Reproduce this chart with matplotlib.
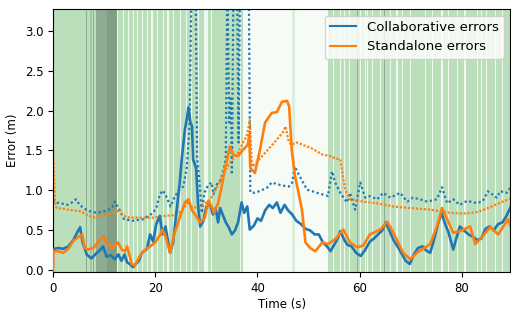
import matplotlib
matplotlib.use('Agg')
import matplotlib.pyplot as plt

# --- data (time in s, error in m) ---
collab_t = [0, 0.2, 1, 2, 3, 4, 4.7, 5.3, 5.8, 6.6, 7.5, 8.6, 9.3, 9.8, 10.5, 11.3, 12.1, 12.8,
            13.4, 14.0, 14.5, 15.0, 15.7, 16.2, 16.8, 17.4, 18.4, 19.0, 19.6, 20.2, 20.9, 21.4,
            22.0, 22.9, 23.5, 24.2, 24.8, 25.2, 25.8, 26.2, 26.5, 26.9, 27.2, 27.4, 28.0, 28.4,
            28.8, 29.4, 30.0, 30.7, 31.3, 31.8, 32.3, 32.7, 33.3, 33.8, 34.3, 35.0, 35.6, 36.2,
            36.9, 37.4, 38.0, 38.5, 39.3, 40.0, 40.7, 41.5, 42.3, 43.0, 43.8, 44.5, 45.3, 46.0,
            46.8, 47.6, 48.5, 49.4, 50.3, 51.2, 52.0, 52.8, 53.6, 54.3, 55.0, 55.7, 56.2, 57.0,
            57.6, 58.4, 59.3, 60.2, 61.0, 62.0, 62.8, 63.6, 64.4, 65.1, 65.8, 66.6, 67.4, 68.3,
            69.0, 69.8, 70.6, 71.4, 72.3, 73.0, 73.8, 74.6, 75.4, 76.0, 76.6, 77.4, 78.3, 78.9,
            79.6, 80.4, 81.3, 82.1, 83.0, 83.8, 84.6, 85.4, 86.2, 87.1, 87.9, 88.7, 89.5]
collab_err = [0.26, 0.27, 0.28, 0.27, 0.3, 0.38, 0.47, 0.54, 0.35, 0.2, 0.15, 0.22, 0.26, 0.3,
              0.17, 0.19, 0.14, 0.2, 0.12, 0.2, 0.1, 0.08, 0.04, 0.08, 0.12, 0.22, 0.27, 0.45,
              0.36, 0.58, 0.68, 0.45, 0.55, 0.22, 0.35, 0.76, 1.1, 1.4, 1.76, 1.9, 2.04, 1.85,
              1.8, 1.39, 1.28, 0.8, 0.55, 0.62, 0.8, 0.83, 0.7, 0.78, 0.6, 0.78, 0.68, 0.6, 0.55,
              0.45, 0.5, 0.6, 0.85, 0.72, 0.8, 0.51, 0.56, 0.65, 0.62, 0.75, 0.82, 0.78, 0.85,
              0.72, 0.82, 0.75, 0.7, 0.62, 0.58, 0.52, 0.5, 0.45, 0.45, 0.35, 0.3, 0.24, 0.32,
              0.4, 0.49, 0.38, 0.32, 0.3, 0.22, 0.18, 0.25, 0.36, 0.4, 0.45, 0.5, 0.6, 0.5, 0.38,
              0.3, 0.2, 0.12, 0.08, 0.2, 0.28, 0.3, 0.25, 0.22, 0.4, 0.6, 0.72, 0.6, 0.47, 0.26,
              0.4, 0.55, 0.5, 0.45, 0.42, 0.38, 0.4, 0.52, 0.55, 0.5, 0.58, 0.6, 0.68, 0.79]

collab_dot_t = [0, 0.4, 1.5, 2.8, 3.7, 4.5, 5.2, 6.2, 7.2, 8.5, 9.6, 10.9, 11.7, 12.1, 12.6, 13.3,
                13.9, 15.6, 17.6, 19.6, 20.3, 20.9, 21.5, 22.2, 23.0, 23.8, 24.6, 25.5, 26.2,
                26.7, 27.1, 27.9, 28.2, 28.6, 29.1, 29.6, 30.3, 31.0, 31.4, 32.1, 32.7, 33.4,
                33.8, 34.1, 34.5, 34.8, 35.0, 35.3, 36.0, 36.3, 36.6, 38.3, 38.6, 39.5, 40.7,
                41.8, 42.8, 43.8, 45.0, 46.2, 46.8, 47.3, 47.9, 49.7, 51.7, 53.8, 54.2, 54.6,
                55.2, 56.2, 57.5, 58.1, 59.1, 60.1, 61.1, 62.0, 63.4, 64.6, 66.0, 67.9, 69.3,
                70.4, 71.8, 73.2, 75.1, 76.1, 77.1, 78.3, 79.6, 81.0, 83.0, 84.1, 85.1, 86.8,
                87.5, 88.8, 89.5]
collab_dot_err = [0.88, 0.85, 0.84, 0.82, 0.85, 0.89, 0.82, 0.77, 0.74, 0.72, 0.73, 0.76, 0.8,
                  0.86, 0.8, 0.72, 0.64, 0.62, 0.64, 0.72, 0.8, 0.95, 1.0, 0.92, 0.8, 0.92, 1.0,
                  1.05, 1.3, 1.8, 3.6, 3.6, 1.4, 1.14, 0.72, 0.97, 1.06, 1.1, 0.95, 1.08, 1.12,
                  1.26, 1.4, 3.6, 1.85, 2.15, 1.2, 3.6, 3.6, 1.6, 3.6, 3.6, 0.98, 0.97, 1.0, 1.03,
                  1.1, 1.08, 1.06, 1.05, 1.1, 1.3, 1.22, 1.01, 0.97, 0.93, 1.1, 1.24, 1.1, 0.97,
                  0.85, 0.97, 0.76, 1.1, 0.91, 0.93, 0.89, 0.97, 0.91, 0.97, 0.86, 0.91, 0.89,
                  0.86, 0.89, 1.04, 0.84, 0.89, 0.82, 0.87, 0.84, 0.87, 0.99, 0.91, 0.99, 0.97,
                  1.04]

stand_t = [0, 0.1, 1, 2, 3, 4, 5.0, 5.7, 6.2, 6.8, 7.9, 8.8, 9.8, 10.7, 11.6, 12.7, 13.5, 14.1,
           14.5, 15.0, 15.4, 16.0, 17.0, 18.0, 19.0, 20.0, 21.0, 21.4, 22.0, 22.9, 23.7, 24.9,
           25.8, 26.5, 27.2, 28.0, 28.8, 29.7, 30.4, 31.0, 31.5, 32.3, 33.0, 33.6, 34.2, 34.6,
           35.2, 36.2, 37.2, 38.1, 38.4, 38.6, 39.5, 40.5, 41.5, 42.8, 43.8, 44.8, 45.8, 46.2,
           46.7, 47.3, 48.7, 49.4, 50.3, 51.3, 52.7, 53.8, 55.2, 56.8, 58.1, 59.5, 60.7, 62.0,
           64.0, 65.4, 66.6, 68.5, 69.9, 71.2, 73.8, 75.1, 76.1, 77.1, 78.3, 79.6, 81.6, 82.6,
           84.1, 85.5, 87.1, 89.0, 89.5]
stand_err = [0.0, 0.24, 0.24, 0.22, 0.27, 0.37, 0.42, 0.45, 0.28, 0.26, 0.28, 0.35, 0.43, 0.33,
             0.28, 0.35, 0.26, 0.24, 0.3, 0.18, 0.08, 0.06, 0.18, 0.26, 0.3, 0.35, 0.45, 0.51,
             0.43, 0.22, 0.45, 0.68, 0.85, 0.89, 0.75, 0.68, 0.6, 0.66, 0.87, 0.8, 0.72, 0.84,
             1.05, 1.26, 1.43, 1.55, 1.45, 1.43, 1.51, 1.57, 1.7, 1.28, 1.22, 1.51, 1.85, 1.97,
             1.98, 2.11, 2.12, 2.05, 1.51, 1.2, 0.76, 0.35, 0.28, 0.24, 0.35, 0.33, 0.39, 0.51,
             0.35, 0.29, 0.31, 0.45, 0.51, 0.61, 0.47, 0.22, 0.14, 0.22, 0.33, 0.55, 0.78, 0.64,
             0.47, 0.49, 0.55, 0.33, 0.43, 0.54, 0.45, 0.64, 0.55]

stand_dot_t = [0, 0.2, 0.4, 0.7, 2, 4, 5.5, 6.5, 7.9, 9, 10.5, 12, 13.1, 13.8, 15, 17, 19.6,
               21.5, 23.5, 25.2, 26.5, 27.3, 28.8, 30.7, 31.8, 33.0, 34.1, 35.1, 36.2, 37.2,
               38.0, 38.5, 38.9, 39.5, 40.5, 41.5, 43.3, 44.9, 45.5, 46.0, 46.6, 47.6, 48.5,
               50.5, 52.7, 54.2, 55.2, 56.2, 56.8, 57.2, 58.1, 60.7, 63.4, 66.5, 69.9, 73.8,
               77.7, 80.2, 83.0, 85.5, 88.0, 89.5]
stand_dot_err = [1.55, 1.2, 0.85, 0.78, 0.77, 0.75, 0.74, 0.7, 0.66, 0.68, 0.7, 0.72, 0.76,
                 0.68, 0.66, 0.66, 0.66, 0.68, 0.69, 0.74, 0.86, 0.78, 0.8, 0.88, 1.01, 1.16,
                 1.3, 1.39, 1.47, 1.6, 1.7, 1.88, 1.3, 1.33, 1.4, 1.47, 1.6, 1.72, 1.8, 1.64,
                 1.57, 1.6, 1.58, 1.53, 1.45, 1.43, 1.4, 1.39, 1.14, 1.0, 0.89, 0.86, 0.84, 0.8,
                 0.78, 0.76, 0.72, 0.71, 0.73, 0.79, 0.86, 0.9]

# background periods (s)
green_periods = [(0, 37.1), (53.8, 89.5)]
faint_periods = [(46.8, 47.4)]
dark_periods = [(6.46, 6.69), (7.83, 8.12), (8.51, 12.43)]
mid_periods = [(7.24, 7.63)]
darker_periods = [(10.6, 12.43)]
gap_times = [12.52, 13.70, 14.68, 15.66, 16.44, 17.42, 18.40, 19.37, 20.35, 21.53, 22.50,
             23.48, 24.85, 26.03, 27.01, 28.38, 30.92, 36.6,
             54.8, 56.2, 57.1, 58.1, 60.1, 61.1, 61.6, 62.6, 64.0, 66.0, 67.3, 68.3, 69.9,
             72.8, 74.2, 76.1, 77.3, 79.1, 80.6, 83.0, 83.9, 84.9, 86.5, 87.9]
wide_gaps = [(29.55, 30.33)]
dark_lines = [59.5, 64.8]

BG = '#f6fbf6'
GREEN = '#bbdfbb'


def main() -> None:
    fig = plt.figure(figsize=(5.11, 3.11), dpi=100)
    ax = fig.add_axes([0.1037, 0.1254, 0.8953, 0.8457])
    ax.set_facecolor(BG)

    for a, b in green_periods:
        ax.axvspan(a, b, color=GREEN, lw=0, zorder=0)
    for a, b in faint_periods:
        ax.axvspan(a, b, color='#dcefdc', lw=0, zorder=0)
    for g in gap_times:
        ax.axvspan(g - 0.1, g + 0.1, color='#f0f9f0', lw=0, zorder=0.5)
    for a, b in wide_gaps:
        ax.axvspan(a, b, color='#f0f9f0', lw=0, zorder=0.5)
    for a, b in mid_periods:
        ax.axvspan(a, b, color='#a3c3a5', lw=0, zorder=0.6)
    for a, b in dark_periods:
        ax.axvspan(a, b, color='#8eac91', lw=0, zorder=0.6)
    for a, b in darker_periods:
        ax.axvspan(a, b, color='#829f86', lw=0, zorder=0.7)
    for x in dark_lines:
        ax.axvspan(x - 0.1, x + 0.1, color='#8eac91', lw=0, zorder=0.6)

    ax.plot(collab_dot_t, collab_dot_err, color='#1f77b4', lw=1.6, ls=(0, (1, 1.2)), zorder=2)
    ax.plot(stand_dot_t, stand_dot_err, color='#ff7f0e', lw=1.6, ls=(0, (1, 0.8)), zorder=2)
    ax.plot(collab_t, collab_err, '-', color='#1f77b4', lw=1.9, zorder=3,
            label='Collaborative errors')
    ax.plot(stand_t, stand_err, '-', color='#ff7f0e', lw=1.9, zorder=3,
            label='Standalone errors')

    ax.set_xlim(0, 89.5)
    ax.set_ylim(-0.02, 3.27)
    ax.set_xticks([0, 20, 40, 60, 80])
    ax.set_yticks([0.0, 0.5, 1.0, 1.5, 2.0, 2.5, 3.0])
    ax.tick_params(labelsize=8.5)
    ax.set_xlabel('Time (s)', fontsize=8.5, labelpad=2)
    ax.set_ylabel('Error (m)', fontsize=8.5)
    leg = ax.legend(loc='upper right', fontsize=9.5)
    for h in leg.get_lines():
        h.set_linewidth(1.5)

    fig.savefig('out.png', dpi=100)
    plt.close(fig)


if __name__ == '__main__':
    main()
